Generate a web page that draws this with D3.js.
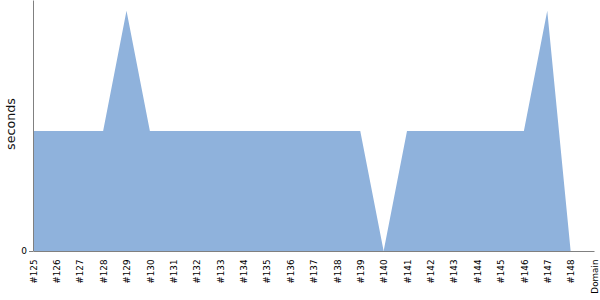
<!DOCTYPE html>
<html>
<head>
<meta charset="utf-8">
<script src="https://cdn.jsdelivr.net/npm/d3@7"></script>
<style>
body { margin: 0; background: #fff; }
svg { display: block; }
.axis path, .axis line { stroke: #808080; }
.axis text { fill: #000; }
</style>
</head>
<body>
<div id="chart"></div>
<script>
// Chart data
var builds = ["#125", "#126", "#127", "#128", "#129", "#130", "#131", "#132", "#133", "#134",
    "#135", "#136", "#137", "#138", "#139", "#140", "#141", "#142", "#143", "#144",
    "#145", "#146", "#147", "#148"];
var seconds = [1, 1, 1, 1, 2, 1, 1, 1, 1, 1,
    1, 1, 1, 1, 1, 0, 1, 1, 1, 1,
    1, 1, 2, 0];
var xLabels = builds.concat(["Domain"]);
var yTicks = [0];

var svgWdt = 600;
var svgHgt = 300;
var margins = { top: 0, right: 6, bottom: 49, left: 33 };
var chtWdt = svgWdt - margins.left - margins.right;
var chtHgt = svgHgt - margins.top - margins.bottom;
var fontFam = "'DejaVu Sans', sans-serif";

var svg = d3.select("#chart").append("svg")
    .attr("width", svgWdt)
    .attr("height", svgHgt);

var chtGrp = svg.append("g")
    .attr("transform", `translate(${margins.left}, ${margins.top})`);

var xScale = d3.scalePoint().domain(xLabels).range([0, chtWdt]);
var yScale = d3.scaleLinear().domain([0, 2.09]).range([chtHgt, 0]);

var rows = builds.map((b, i) => ({ build: b, value: seconds[i] }));

// Area
var area = d3.area()
    .x(d => xScale(d.build))
    .y0(yScale(0))
    .y1(d => yScale(d.value));

chtGrp.append("path")
    .datum(rows)
    .attr("fill", "#8fb2dc")
    .attr("d", area);

// Axes
var xAxis = chtGrp.append("g").attr("class", "axis")
    .attr("transform", `translate(0, ${chtHgt})`)
    .call(d3.axisBottom(xScale).tickSize(0).tickSizeOuter(0))
    .attr("font-family", fontFam)
    .attr("font-size", 8.8);
// rotated build labels
xAxis.selectAll("text")
    .attr("transform", "rotate(-90)")
    .attr("text-anchor", "end")
    .attr("x", -8.5)
    .attr("y", 0)
    .attr("dy", "0.36em");

chtGrp.append("g").attr("class", "axis")
    .call(d3.axisLeft(yScale).tickValues(yTicks).tickFormat(d3.format("d"))
        .tickSize(4).tickPadding(2).tickSizeOuter(0))
    .attr("font-family", fontFam)
    .attr("font-size", 9);

// Y label
svg.append("text")
    .attr("transform", "rotate(-90)")
    .attr("x", -124)
    .attr("y", 15)
    .attr("text-anchor", "middle")
    .attr("font-family", fontFam)
    .attr("font-size", "12.7px")
    .attr("fill", "#111")
    .text("seconds");
</script>
</body>
</html>
